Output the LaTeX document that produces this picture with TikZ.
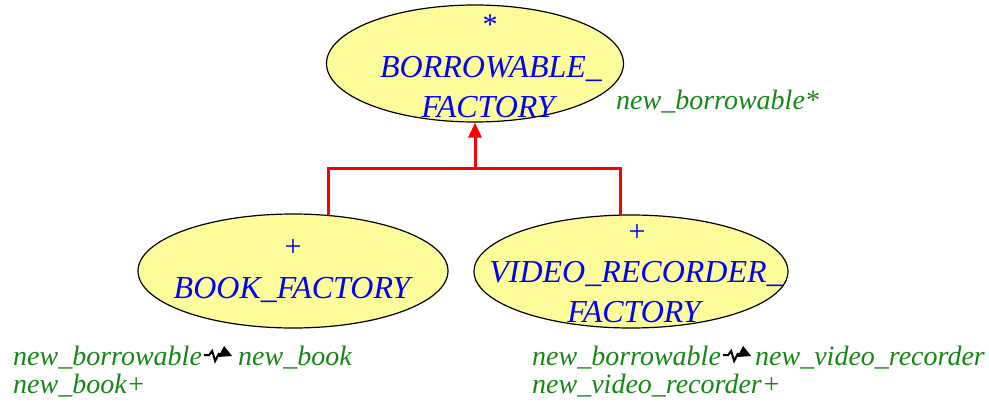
\documentclass[tikz,border=0pt]{standalone}
\usepackage{fontspec}
\setmainfont{Liberation Serif}
\usetikzlibrary{shapes.geometric,arrows.meta,calc}
\definecolor{clsfill}{RGB}{252,252,155}
\definecolor{clsblue}{RGB}{0,0,255}
\definecolor{featgreen}{RGB}{20,135,20}
\definecolor{inhred}{RGB}{255,0,0}
\tikzset{
  cls/.style={ellipse, draw=black, line width=1.2pt, fill=clsfill, inner sep=0pt},
  bluetxt/.style={text=clsblue, font=\fontsize{32}{38}\selectfont\itshape, inner sep=0pt, anchor=base},
  plustxt/.style={text=clsblue, font=\fontsize{30}{36}\selectfont, inner sep=0pt, anchor=base},
  greentxt/.style={text=featgreen, font=\fontsize{28}{34}\selectfont\itshape, inner sep=0pt, anchor=base west},
  inh/.style={draw=inhred, line width=3pt},
  squig/.style={draw=black, line width=2pt, line join=miter},
  squighead/.style={fill=black}
}
\begin{document}
\begin{tikzpicture}[x=1pt,y=-1pt]
\useasboundingbox (0,0) rectangle (989,410);
% class ellipses
\node[cls, minimum width=297pt, minimum height=117pt] (top) at (475,63.5) {};
\node[cls, minimum width=310pt, minimum height=114pt] (left) at (293,271) {};
\node[cls, minimum width=314pt, minimum height=113pt] (right) at (631,271.5) {};
% top class text
\node[plustxt] (tstar) at (490,34) {*};
\node[bluetxt] (tname1) at (491,77) {BORROWABLE\_};
\node[bluetxt] (tname2) at (488,117) {FACTORY};
% left class text
\node[plustxt] (lplus) at (293,256) {+};
\node[bluetxt] (lname) at (292,298) {BOOK\_FACTORY};
% right class text
\node[plustxt] (rplus) at (637,241) {+};
\node[bluetxt] (rname1) at (636,282) {VIDEO\_RECORDER\_};
\node[bluetxt] (rname2) at (634,322) {FACTORY};
% inheritance
\coordinate (bar) at (475,168);
\path[inh] ($(left.north)+(35,1.5)$) |- (bar) -| ($(right.north)+(-11,1)$);
\draw[inh, -{Triangle[length=15pt,width=13pt]}] (bar) -- (top.south);
% features
\node[greentxt] (tfeat) at (616,109) {new\_borrowable*};
\node[greentxt] (lf1) at (13,365) {new\_borrowable};
\node[greentxt] (lf2) at (238,365) {new\_book};
\node[greentxt] (lf3) at (13,393) {new\_book+};
\node[greentxt] (rf1) at (532,365) {new\_borrowable};
\node[greentxt] (rf2) at (755,365) {new\_video\_recorder};
\node[greentxt] (rf3) at (532,393) {new\_video\_recorder+};
% rename squiggles
\begin{scope}[shift={(lf1.base east)}]
  \draw[squig] (2,-10) -- (7,-10) -- (10,-14) -- (13,-4) -- (17,-12);
  \fill[squighead] (16,-8) -- (22,-19) -- (30,-9) -- cycle;
\end{scope}
\begin{scope}[shift={(rf1.base east)}]
  \draw[squig] (2,-10) -- (7,-10) -- (10,-14) -- (13,-4) -- (17,-12);
  \fill[squighead] (16,-8) -- (22,-19) -- (30,-9) -- cycle;
\end{scope}
\end{tikzpicture}
\end{document}
